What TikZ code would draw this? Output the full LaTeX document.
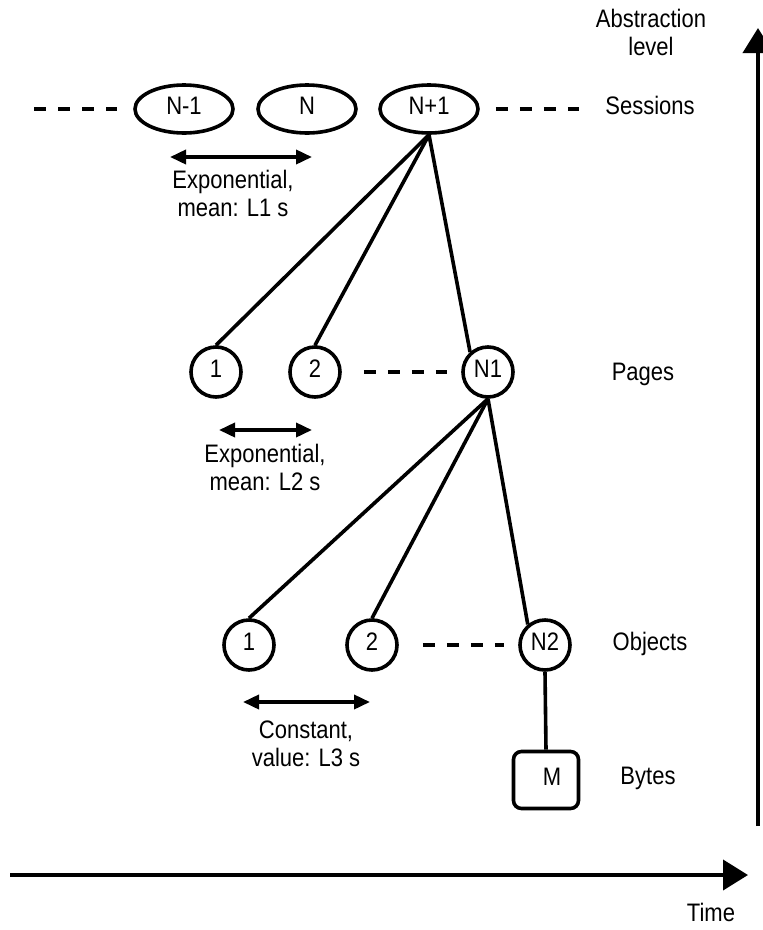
\documentclass[tikz,border=0pt]{standalone}
\usepackage{fontspec}
\setmainfont{Liberation Sans}
\usetikzlibrary{arrows.meta,shapes.geometric}
% slightly tall lettering
\newcommand{\tall}[1]{\scalebox{1}[1.15]{\begin{tabular}{@{}c@{}}#1\end{tabular}}}

\begin{document}
\begin{tikzpicture}[x=1pt,y=-1pt,
  every node/.style={font=\fontsize{22}{24.5}\selectfont, inner sep=0pt},
  link/.style={line width=3.6pt},
  dashlink/.style={line width=3.6pt, dash pattern=on 12pt off 12pt},
  session/.style={draw, line width=3.6pt, ellipse, minimum width=98pt, minimum height=48pt},
  event/.style={draw, line width=3.6pt, circle, minimum size=50pt},
  bytebox/.style={draw, line width=3.6pt, rectangle, rounded corners=8pt, minimum width=65pt, minimum height=57pt},
  span/.style={line width=3.6pt, {Triangle[length=16pt,width=14pt]}-{Triangle[length=16pt,width=14pt]}},
  axis/.style={line width=4pt, -{Triangle[length=25pt,width=30pt]}},
]
\useasboundingbox (0,0) rectangle (763,930);

% --- axes ---
\coordinate (vbot) at (758,826);
\coordinate (vtop) at (758,28);
\coordinate (hleft) at (10,875);
\coordinate (hright) at (748,875);
\draw[axis] (vbot) -- (vtop);
\draw[axis] (hleft) -- (hright);
\node (abs) at (651,36) {\tall{Abstraction\\level}};
\node (time) at (711,916) {\tall{Time}};

% --- sessions ---
\node[session] (s1) at (184,109) {\tall{N-1}};
\node[session] (s2) at (307,109) {\tall{N}};
\node[session] (s3) at (429,109) {\tall{N+1}};
\node (lsess) at (650,109) {\tall{Sessions}};
\coordinate (sl) at (34,109);
\coordinate (sr) at (579,109);
\draw[dashlink] (sl) -- ([xshift=-16pt]s1.west);
\draw[dashlink] ([xshift=16pt]s3.east) -- (sr);

\coordinate (a1l) at (170,157);
\coordinate (a1r) at (312,157);
\draw[span] (a1l) -- (a1r);
\node (t1) at (233,197) {\tall{Exponential,\\mean: L1 s}};

% --- pages ---
\node[event] (p1) at (216,372) {\tall{1}};
\node[event] (p2) at (315,372) {\tall{2}};
\node[event] (pn) at (488,372) {\tall{N1}};
\node (lpage) at (643,375) {\tall{Pages}};
\draw[dashlink] ([xshift=22pt]p2.east) -- ([xshift=-14pt]pn.west);
\draw[link] (s3.south) -- (p1.north);
\draw[link] (s3.south) -- (p2.north);
\draw[link] (s3.south) -- (pn.132);

\coordinate (a2l) at (219,430);
\coordinate (a2r) at (312,430);
\draw[span] (a2l) -- (a2r);
\node (t2) at (265,471) {\tall{Exponential,\\mean: L2 s}};

% --- objects ---
\node[event] (o1) at (249,645) {\tall{1}};
\node[event] (o2) at (372,645) {\tall{2}};
\node[event] (on) at (545,645) {\tall{N2}};
\node (lobj) at (650,645) {\tall{Objects}};
\draw[dashlink] ([xshift=24pt]o2.east) -- ([xshift=-14pt]on.west);
\draw[link] (pn.south) -- (o1.north);
\draw[link] (pn.south) -- (o2.north);
\draw[link] (pn.south) -- (on.130);

\coordinate (a3l) at (243,702);
\coordinate (a3r) at (370,702);
\draw[span] (a3l) -- (a3r);
\node (t3) at (306,747) {\tall{Constant,\\value: L3 s}};

% --- bytes ---
\node[bytebox] (m) at (546,780) {\hspace*{12pt}\raisebox{-9pt}{\tall{M}}};
\node (lbyte) at (648,779) {\tall{Bytes}};
\draw[link] (on.south) -- (m.north);
\end{tikzpicture}
\end{document}
